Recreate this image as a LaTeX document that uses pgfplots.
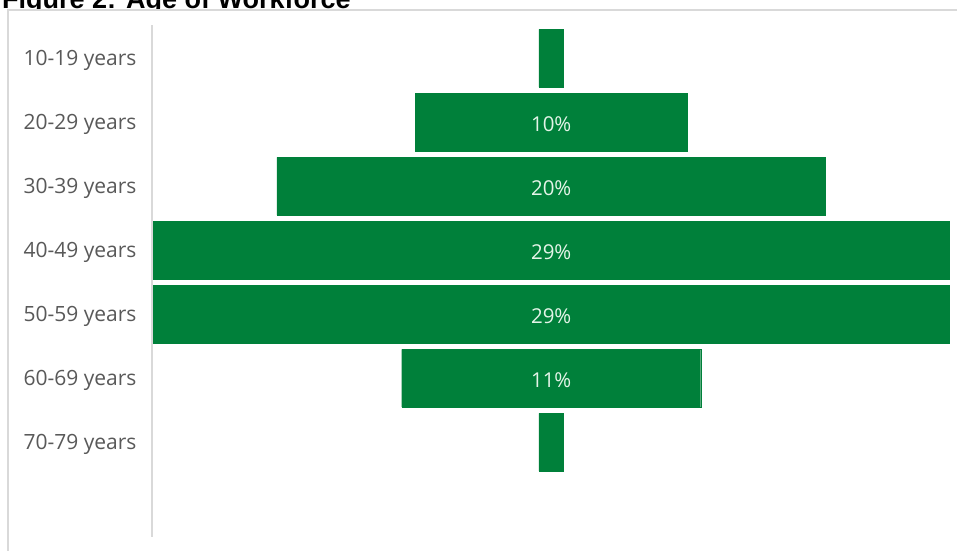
\documentclass[border=0pt]{standalone}
\usepackage{fontspec}
\setmainfont{Open Sans}
\newfontfamily\titlefont{Liberation Sans}
\usepackage{pgfplots}
\pgfplotsset{compat=1.18}
\usepackage{pgfplotstable}
\definecolor{fgreen}{RGB}{0,128,58}
\definecolor{lbl}{RGB}{89,89,89}
\definecolor{axgray}{RGB}{217,217,217}
\definecolor{lbltext}{RGB}{228,244,232}

\pgfplotstableread{
y v
1 0.9
2 9.9
3 20
4 29
5 29
6 10.9
7 0.9
}\funneldata

\begin{document}
\begin{tikzpicture}
\node[anchor=base west, inner sep=0pt, font=\titlefont\bfseries\fontsize{27}{30}\selectfont] at (2pt,541pt) {Figure 2: Age of Workforce};
\filldraw[fill=white, draw=axgray, line width=1.2pt] (8pt,-20pt) rectangle (980pt,540pt);
\begin{axis}[at={(152pt,13pt)}, anchor=south west, scale only axis, width=797pt, height=512pt,
  xmin=-14.55, xmax=14.5, ymin=0.48, ymax=8.48, y dir=reverse,
  axis x line=none, axis y line*=left,
  y axis line style={-, draw=axgray, line width=1.5pt},
  ytick={1,2,3,4,5,6,7},
  yticklabels={10-19 years,20-29 years,30-39 years,40-49 years,50-59 years,60-69 years,70-79 years},
  major tick length=0pt,
  yticklabel style={font=\fontsize{21}{24}\selectfont, text=lbl, xshift=-12pt, yshift=-2.5pt},
  clip=false]
\addplot[xbar, bar width=0.9, bar shift=0pt, fill=fgreen, draw=fgreen, line width=0.2pt] table[x expr=\thisrow{v}/2, y=y]{\funneldata};
\addplot[xbar, bar width=0.9, bar shift=0pt, fill=fgreen, draw=fgreen, line width=0.2pt] table[x expr=-\thisrow{v}/2, y=y]{\funneldata};
\addplot[draw=none, mark=none, nodes near coords, point meta=explicit symbolic,
  every node near coord/.append style={anchor=center, yshift=-1.5pt, font=\fontsize{20.5}{24}\selectfont, text=lbltext}]
  coordinates {(0,2) [10\%] (0,3) [20\%] (0,4) [29\%] (0,5) [29\%] (0,6) [11\%]};
\end{axis}
\pgfresetboundingbox
\useasboundingbox (0pt,0pt) rectangle (957pt,550pt);
\end{tikzpicture}
\end{document}
